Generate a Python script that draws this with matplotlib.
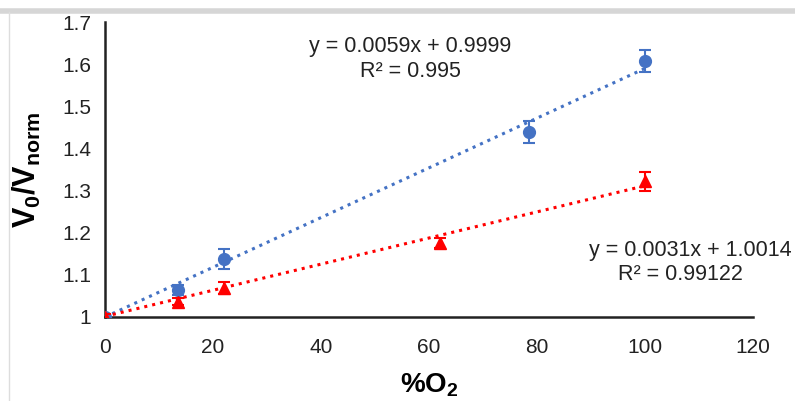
import matplotlib
matplotlib.use('Agg')
from matplotlib import pyplot as plt
from matplotlib.lines import Line2D
import numpy as np

plt.rcParams['font.family'] = 'Liberation Sans'
plt.rcParams['mathtext.fontset'] = 'custom'
plt.rcParams['mathtext.rm'] = 'Liberation Sans:bold'
plt.rcParams['mathtext.bf'] = 'Liberation Sans:bold'

# data
blue_x = [0, 13.5, 22, 78.5, 100]
blue_y = [1.0, 1.064, 1.138, 1.44, 1.608]
blue_err = [0.008, 0.012, 0.024, 0.026, 0.026]

red_x = [0, 13.5, 22, 62, 100]
red_y = [1.0, 1.036, 1.069, 1.176, 1.322]
red_err = [0.006, 0.008, 0.015, 0.012, 0.022]

blue_fit = (0.0059, 0.9999)
red_fit = (0.0031, 1.0014)

xticks = [0, 20, 40, 60, 80, 100, 120]
yticks = [1, 1.1, 1.2, 1.3, 1.4, 1.5, 1.6, 1.7]
ytick_labels = ['1', '1.1', '1.2', '1.3', '1.4', '1.5', '1.6', '1.7']

blue = '#4472C4'
red = '#FF0000'

fig = plt.figure(figsize=(7.95, 4.01), dpi=100)
ax = fig.add_axes([0.132, 0.2095, 0.815, 0.7355])

# trend lines
xf = np.array([0, 100])
ax.plot(xf, blue_fit[0] * xf + blue_fit[1], ls=':', color=blue, lw=2.2, zorder=2)
ax.plot(xf, red_fit[0] * xf + red_fit[1], ls=':', color=red, lw=2.2, zorder=2)

ax.errorbar(blue_x, blue_y, yerr=blue_err, fmt='o', color=blue, ms=8.5,
            capsize=4, elinewidth=1.5, capthick=1.5, zorder=3)
ax.errorbar(red_x, red_y, yerr=red_err, fmt='^', color=red, ms=8.5,
            capsize=4, elinewidth=1.5, capthick=1.5, zorder=4)

ax.set_xlim(0, 120)
ax.set_ylim(1, 1.7)
ax.set_xticks(xticks)
ax.set_yticks(yticks)
ax.set_yticklabels(ytick_labels)
ax.tick_params(length=0, labelsize=15, colors='#222222')
ax.tick_params(axis='x', pad=15)
ax.tick_params(axis='y', pad=10)
for s in ['top', 'right']:
    ax.spines[s].set_visible(False)
for s in ['left', 'bottom']:
    ax.spines[s].set_linewidth(1.8)
    ax.spines[s].set_color('#222222')

ax.set_xlabel(r'%O$_2$', fontsize=20, fontweight='bold', labelpad=10)
ax.set_ylabel(r'$\mathbf{V_0/V_{norm}}$', fontsize=22, labelpad=14)

ax.text(56.5, 1.642, 'y = 0.0059x + 0.9999', fontsize=15.5, ha='center', va='center', color='#222222')
ax.text(56.5, 1.582, 'R² = 0.995', fontsize=15.5, ha='center', va='center', color='#222222')
ax.text(108.5, 1.157, 'y = 0.0031x + 1.0014', fontsize=15.5, ha='center', va='center', color='#222222')
ax.text(106.5, 1.100, 'R² = 0.99122', fontsize=15.5, ha='center', va='center', color='#222222')

# screenshot frame
fig.add_artist(Line2D([0, 1], [1 - 10.5 / 401] * 2, transform=fig.transFigure, color='#d6d6d6', lw=4))
fig.add_artist(Line2D([8.5 / 795] * 2, [0, 1 - 12 / 401], transform=fig.transFigure, color='#dddddd', lw=1))

fig.savefig('out.png', dpi=100)
